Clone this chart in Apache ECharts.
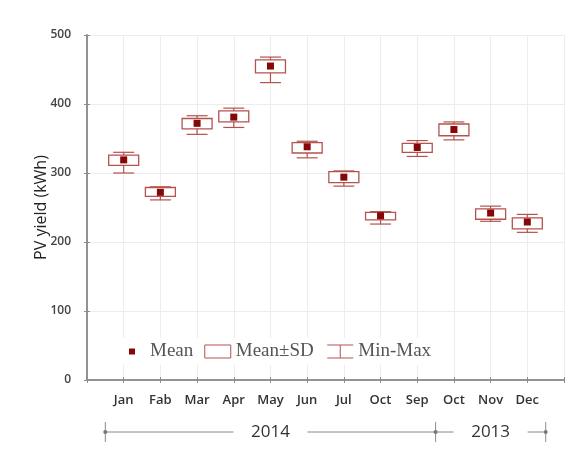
<!DOCTYPE html>
<html><head><meta charset="utf-8">
<script src="https://cdn.jsdelivr.net/npm/echarts@6/dist/echarts.min.js"></script>
<style>html,body{margin:0;padding:0;background:#fff}#c{width:577px;height:450px}</style>
</head><body><div id="c"></div>
<script>
// ---- data ----
const categories = ['Jan','Fab','Mar','Apr','May','Jun','Jul','Oct','Sep','Oct','Nov','Dec'];
const meanVals = [319, 272, 372, 381, 455, 338, 294, 238, 337, 363, 242, 229];
const sdLow    = [311, 266, 364, 374, 445, 329, 286, 232, 330, 354, 233, 219];
const sdHigh   = [326, 279, 379, 390, 464, 344, 302, 243, 343, 371, 248, 235];
const minVals  = [300, 261, 356, 366, 431, 322, 281, 226, 324, 348, 230, 214];
const maxVals  = [330, 280, 383, 394, 468, 346, 303, 244, 347, 374, 252, 240];
const yTicks = [0, 100, 200, 300, 400, 500];
const yearLabels = ['2014', '2013'];
const yearFirst = [0, 9];   // index of first month in each year group
const yearLast  = [8, 11];  // index of last month in each year group

// ---- styles ----
const boxColor = '#b5524f';
const meanColor = '#870606';
const axisColor = '#8c8c8c';
const gridColor = '#ececec';

const pos = categories.map((_, i) => i + 1);
const whiskerData = pos.map((p, i) => [p, minVals[i], maxVals[i]]);
const boxData = pos.map((p, i) => [p, sdLow[i], sdHigh[i]]);
const meanData = pos.map((p, i) => [p, meanVals[i]]);

const chart = echarts.init(document.getElementById('c'));

const frameAxis = {
  axisLine: {show: true, lineStyle: {color: axisColor, width: 1.5}},
  axisTick: {show: true, inside: true, length: 3, lineStyle: {color: axisColor}},
  axisLabel: {show: false},
  splitLine: {show: false}
};

const option = {
  animation: false,
  backgroundColor: '#fff',
  grid: {left: 87, right: 13, top: 35, bottom: 70},
  xAxis: [{
    type: 'value', min: 0, max: categories.length + 1, interval: 1,
    axisLine: {show: true, lineStyle: {color: axisColor, width: 1.5}},
    axisTick: {show: true, inside: true, length: 3, lineStyle: {color: axisColor}},
    splitLine: {show: true, lineStyle: {color: gridColor, width: 1}},
    axisLabel: {
      margin: 14, color: '#333', fontFamily: 'Open Sans', fontWeight: 600, fontSize: 13,
      formatter: v => (v >= 1 && v <= categories.length) ? categories[v - 1] : ''
    }
  }, Object.assign({type: 'value', position: 'top', min: 0, max: categories.length + 1, interval: 1}, frameAxis)],
  yAxis: [{
    type: 'value', min: yTicks[0], max: yTicks[yTicks.length - 1], interval: 100,
    name: 'PV yield (kWh)', nameLocation: 'middle', nameGap: 38, nameMoveOverlap: false,
    nameTextStyle: {color: '#222', fontFamily: 'Open Sans', fontSize: 16},
    axisLine: {show: true, lineStyle: {color: axisColor, width: 1.5}},
    axisTick: {show: true, inside: true, length: 3, lineStyle: {color: axisColor}},
    splitLine: {show: true, lineStyle: {color: gridColor, width: 1}},
    axisLabel: {margin: 16, color: '#444', fontFamily: 'Open Sans', fontWeight: 600, fontSize: 12}
  }, Object.assign({type: 'value', position: 'right', min: 0, max: 500, interval: 100}, frameAxis)],
  legend: {
    left: 117, top: 338, itemWidth: 26, itemHeight: 13, itemGap: 11,
    backgroundColor: '#fff', padding: [4, 2],
    textStyle: {fontFamily: 'Liberation Serif', fontSize: 19, color: '#555'},
    data: [
      {name: 'Mean', icon: 'path://M0,0 M26,13 M10,3.5 h6 v6 h-6 z', itemStyle: {color: meanColor, borderWidth: 0, opacity: 1}},
      {name: 'Mean±SD', icon: 'rect', itemStyle: {color: '#fff', borderColor: boxColor, borderWidth: 1}},
      {name: 'Min-Max', icon: 'path://M0,0 H26 M13,0 V13 M0,13 H26', itemStyle: {color: 'none', borderColor: boxColor, borderWidth: 1}}
    ]
  },
  series: [
    {
      name: 'Min-Max', type: 'custom', data: whiskerData, z: 2,
      itemStyle: {color: boxColor},
      renderItem: (params, api) => {
        const x = api.value(0);
        const lo = api.coord([x, api.value(1)]);
        const hi = api.coord([x, api.value(2)]);
        const hw = 10.5;
        const st = {stroke: boxColor, lineWidth: 1.2, fill: null};
        return {type: 'group', children: [
          {type: 'line', shape: {x1: lo[0], y1: lo[1], x2: hi[0], y2: hi[1]}, style: st},
          {type: 'line', shape: {x1: lo[0] - hw, y1: lo[1], x2: lo[0] + hw, y2: lo[1]}, style: st},
          {type: 'line', shape: {x1: hi[0] - hw, y1: hi[1], x2: hi[0] + hw, y2: hi[1]}, style: st}
        ]};
      }
    },
    {
      name: 'Mean±SD', type: 'custom', data: boxData, z: 3,
      itemStyle: {color: '#fff', borderColor: boxColor},
      renderItem: (params, api) => {
        const x = api.value(0);
        const lo = api.coord([x, api.value(1)]);
        const hi = api.coord([x, api.value(2)]);
        const hw = 15;
        return {type: 'rect', shape: {x: lo[0] - hw, y: hi[1], width: hw * 2, height: lo[1] - hi[1]},
          style: {fill: '#fff', stroke: boxColor, lineWidth: 1.3}};
      }
    },
    {
      name: 'Mean', type: 'scatter', data: meanData, z: 4,
      symbol: 'rect', symbolSize: 7, itemStyle: {color: meanColor, opacity: 1}
    }
  ]
};
chart.setOption(option);

// year bracket below the axis
const yB = 432;
const gapHalf = 37;
const gcol = '#8a8a8a';
const els = [];
const tickXs = [];
yearLabels.forEach((lab, k) => {
  const x0 = chart.convertToPixel({xAxisIndex: 0}, yearFirst[k] + 0.5);
  const x1 = chart.convertToPixel({xAxisIndex: 0}, yearLast[k] + 1.5);
  const xc = (x0 + x1) / 2;
  tickXs.push(x0, x1);
  els.push({type: 'line', shape: {x1: x0, y1: yB, x2: xc - gapHalf, y2: yB}, style: {stroke: gcol, lineWidth: 1}});
  els.push({type: 'line', shape: {x1: xc + gapHalf, y1: yB, x2: x1, y2: yB}, style: {stroke: gcol, lineWidth: 1}});
  els.push({type: 'text', x: xc, y: yB, style: {text: lab, fill: '#333', font: '17px "Open Sans"', textAlign: 'center', textVerticalAlign: 'middle'}});
});
[...new Set(tickXs.map(v => Math.round(v * 10) / 10))].forEach(x => {
  els.push({type: 'line', shape: {x1: x, y1: yB - 10, x2: x, y2: yB + 10}, style: {stroke: gcol, lineWidth: 1}});
  els.push({type: 'circle', shape: {cx: x, cy: yB, r: 2}, style: {fill: '#777'}});
});
chart.setOption({graphic: els});
</script></body></html>
